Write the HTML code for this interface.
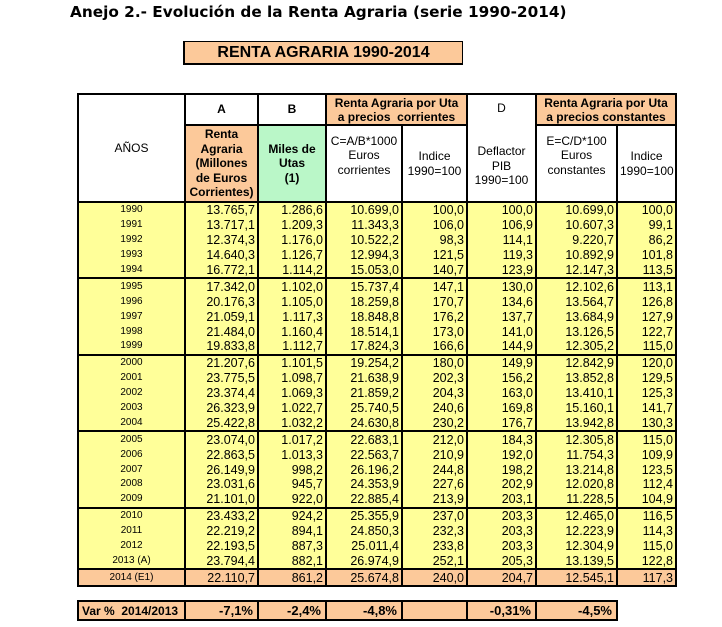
<!DOCTYPE html>
<html><head><meta charset="utf-8"><style>
body{margin:0;width:722px;height:627px;background:#fff;position:relative;font-family:"Liberation Sans",Arial,sans-serif;overflow:hidden}
.title{position:absolute;left:70px;top:3px;font-family:"DejaVu Sans",sans-serif;font-weight:bold;font-size:15.3px;color:#000}
.box{position:absolute;left:183px;top:41px;width:277px;height:21px;background:#fcc99a;border-left:2px solid #000;border-bottom:2px solid #000;border-top:1px solid #000;border-right:1px solid #000;font-weight:bold;font-size:16px;text-align:center;line-height:21px}
table{position:absolute;border-collapse:collapse;table-layout:fixed}
#t{left:77px;top:93px;width:598px}
td{padding:0 2px;font-size:12.5px;border-left:2px solid #000;border-right:2px solid #000;white-space:nowrap;overflow:hidden}
.h td{text-align:center;background:#fff;border:2px solid #000;font-size:12px;line-height:14.4px;white-space:normal;padding-top:0;padding-bottom:0}
.o{background:#fcc99a!important;font-weight:bold}
.g{background:#baf7c8!important;font-weight:bold}
tbody.d td{background:#ffff99;text-align:right;height:14.9px;line-height:14px}
tbody.d td:first-child{text-align:center;font-size:10px}
tbody.d{border-top:2px solid #000}
tr.e td{background:#fcc99a!important;border-top:2px solid #000;border-bottom:2px solid #000}
#v{left:77px;top:600px;width:539px;border:2px solid #000}
#v td{background:#fcc99a;font-weight:bold;text-align:right;height:17px;font-size:13px;border:2px solid #000;padding-right:4px}
</style></head><body>
<div class="title">Anejo 2.- Evolución de la Renta Agraria (serie 1990-2014)</div>
<div class="box">RENTA AGRARIA 1990-2014</div>
<table id="t">
<colgroup><col style="width:107px"><col style="width:73px"><col style="width:68px"><col style="width:76px"><col style="width:65px"><col style="width:69px"><col style="width:81px"><col style="width:59px"></colgroup>
<tbody class="h">
<tr style="height:31px"><td rowspan="2" style="font-weight:normal">AÑOS</td><td style="font-weight:bold">A</td><td style="font-weight:bold">B</td><td colspan="2" class="o" style="line-height:14px">Renta Agraria por Uta<br>a precios&nbsp; corrientes</td><td rowspan="2" style="vertical-align:top;padding-top:6px">D<br><br><br>Deflactor<br>PIB<br>1990=100</td><td colspan="2" class="o" style="line-height:14px">Renta Agraria por Uta<br>a precios constantes</td></tr>
<tr style="height:77px"><td class="o">Renta<br>Agraria<br>(Millones<br>de Euros<br>Corrientes)</td><td class="g">Miles de<br>Utas<br>(1)</td><td style="vertical-align:top;padding-top:8px">C=A/B*1000<br>Euros<br>corrientes</td><td>Indice<br>1990=100</td><td style="vertical-align:top;padding-top:8px">E=C/D*100<br>Euros<br>constantes</td><td>Indice<br>1990=100</td></tr>
</tbody>
<tbody class="d">
<tr><td>1990</td><td>13.765,7</td><td>1.286,6</td><td>10.699,0</td><td>100,0</td><td>100,0</td><td>10.699,0</td><td>100,0</td></tr>
<tr><td>1991</td><td>13.717,1</td><td>1.209,3</td><td>11.343,3</td><td>106,0</td><td>106,9</td><td>10.607,3</td><td>99,1</td></tr>
<tr><td>1992</td><td>12.374,3</td><td>1.176,0</td><td>10.522,2</td><td>98,3</td><td>114,1</td><td>9.220,7</td><td>86,2</td></tr>
<tr><td>1993</td><td>14.640,3</td><td>1.126,7</td><td>12.994,3</td><td>121,5</td><td>119,3</td><td>10.892,9</td><td>101,8</td></tr>
<tr><td>1994</td><td>16.772,1</td><td>1.114,2</td><td>15.053,0</td><td>140,7</td><td>123,9</td><td>12.147,3</td><td>113,5</td></tr>
</tbody><tbody class="d">
<tr><td>1995</td><td>17.342,0</td><td>1.102,0</td><td>15.737,4</td><td>147,1</td><td>130,0</td><td>12.102,6</td><td>113,1</td></tr>
<tr><td>1996</td><td>20.176,3</td><td>1.105,0</td><td>18.259,8</td><td>170,7</td><td>134,6</td><td>13.564,7</td><td>126,8</td></tr>
<tr><td>1997</td><td>21.059,1</td><td>1.117,3</td><td>18.848,8</td><td>176,2</td><td>137,7</td><td>13.684,9</td><td>127,9</td></tr>
<tr><td>1998</td><td>21.484,0</td><td>1.160,4</td><td>18.514,1</td><td>173,0</td><td>141,0</td><td>13.126,5</td><td>122,7</td></tr>
<tr><td>1999</td><td>19.833,8</td><td>1.112,7</td><td>17.824,3</td><td>166,6</td><td>144,9</td><td>12.305,2</td><td>115,0</td></tr>
</tbody><tbody class="d">
<tr><td>2000</td><td>21.207,6</td><td>1.101,5</td><td>19.254,2</td><td>180,0</td><td>149,9</td><td>12.842,9</td><td>120,0</td></tr>
<tr><td>2001</td><td>23.775,5</td><td>1.098,7</td><td>21.638,9</td><td>202,3</td><td>156,2</td><td>13.852,8</td><td>129,5</td></tr>
<tr><td>2002</td><td>23.374,4</td><td>1.069,3</td><td>21.859,2</td><td>204,3</td><td>163,0</td><td>13.410,1</td><td>125,3</td></tr>
<tr><td>2003</td><td>26.323,9</td><td>1.022,7</td><td>25.740,5</td><td>240,6</td><td>169,8</td><td>15.160,1</td><td>141,7</td></tr>
<tr><td>2004</td><td>25.422,8</td><td>1.032,2</td><td>24.630,8</td><td>230,2</td><td>176,7</td><td>13.942,8</td><td>130,3</td></tr>
</tbody><tbody class="d">
<tr><td>2005</td><td>23.074,0</td><td>1.017,2</td><td>22.683,1</td><td>212,0</td><td>184,3</td><td>12.305,8</td><td>115,0</td></tr>
<tr><td>2006</td><td>22.863,5</td><td>1.013,3</td><td>22.563,7</td><td>210,9</td><td>192,0</td><td>11.754,3</td><td>109,9</td></tr>
<tr><td>2007</td><td>26.149,9</td><td>998,2</td><td>26.196,2</td><td>244,8</td><td>198,2</td><td>13.214,8</td><td>123,5</td></tr>
<tr><td>2008</td><td>23.031,6</td><td>945,7</td><td>24.353,9</td><td>227,6</td><td>202,9</td><td>12.020,8</td><td>112,4</td></tr>
<tr><td>2009</td><td>21.101,0</td><td>922,0</td><td>22.885,4</td><td>213,9</td><td>203,1</td><td>11.228,5</td><td>104,9</td></tr>
</tbody><tbody class="d">
<tr><td>2010</td><td>23.433,2</td><td>924,2</td><td>25.355,9</td><td>237,0</td><td>203,3</td><td>12.465,0</td><td>116,5</td></tr>
<tr><td>2011</td><td>22.219,2</td><td>894,1</td><td>24.850,3</td><td>232,3</td><td>203,3</td><td>12.223,9</td><td>114,3</td></tr>
<tr><td>2012</td><td>22.193,5</td><td>887,3</td><td>25.011,4</td><td>233,8</td><td>203,3</td><td>12.304,9</td><td>115,0</td></tr>
<tr><td>2013 (A)</td><td>23.794,4</td><td>882,1</td><td>26.974,9</td><td>252,1</td><td>205,3</td><td>13.139,5</td><td>122,8</td></tr>
<tr class="e"><td>2014 (E1)</td><td>22.110,7</td><td>861,2</td><td>25.674,8</td><td>240,0</td><td>204,7</td><td>12.545,1</td><td>117,3</td></tr>
</tbody>
</table>
<table id="v">
<colgroup><col style="width:107px"><col style="width:73px"><col style="width:68px"><col style="width:76px"><col style="width:65px"><col style="width:69px"><col style="width:81px"></colgroup>
<tr><td style="text-align:left;padding-left:3px;font-size:12px">Var %&nbsp; 2014/2013</td><td>-7,1%</td><td>-2,4%</td><td>-4,8%</td><td></td><td>-0,31%</td><td>-4,5%</td></tr>
</table>
</body></html>
